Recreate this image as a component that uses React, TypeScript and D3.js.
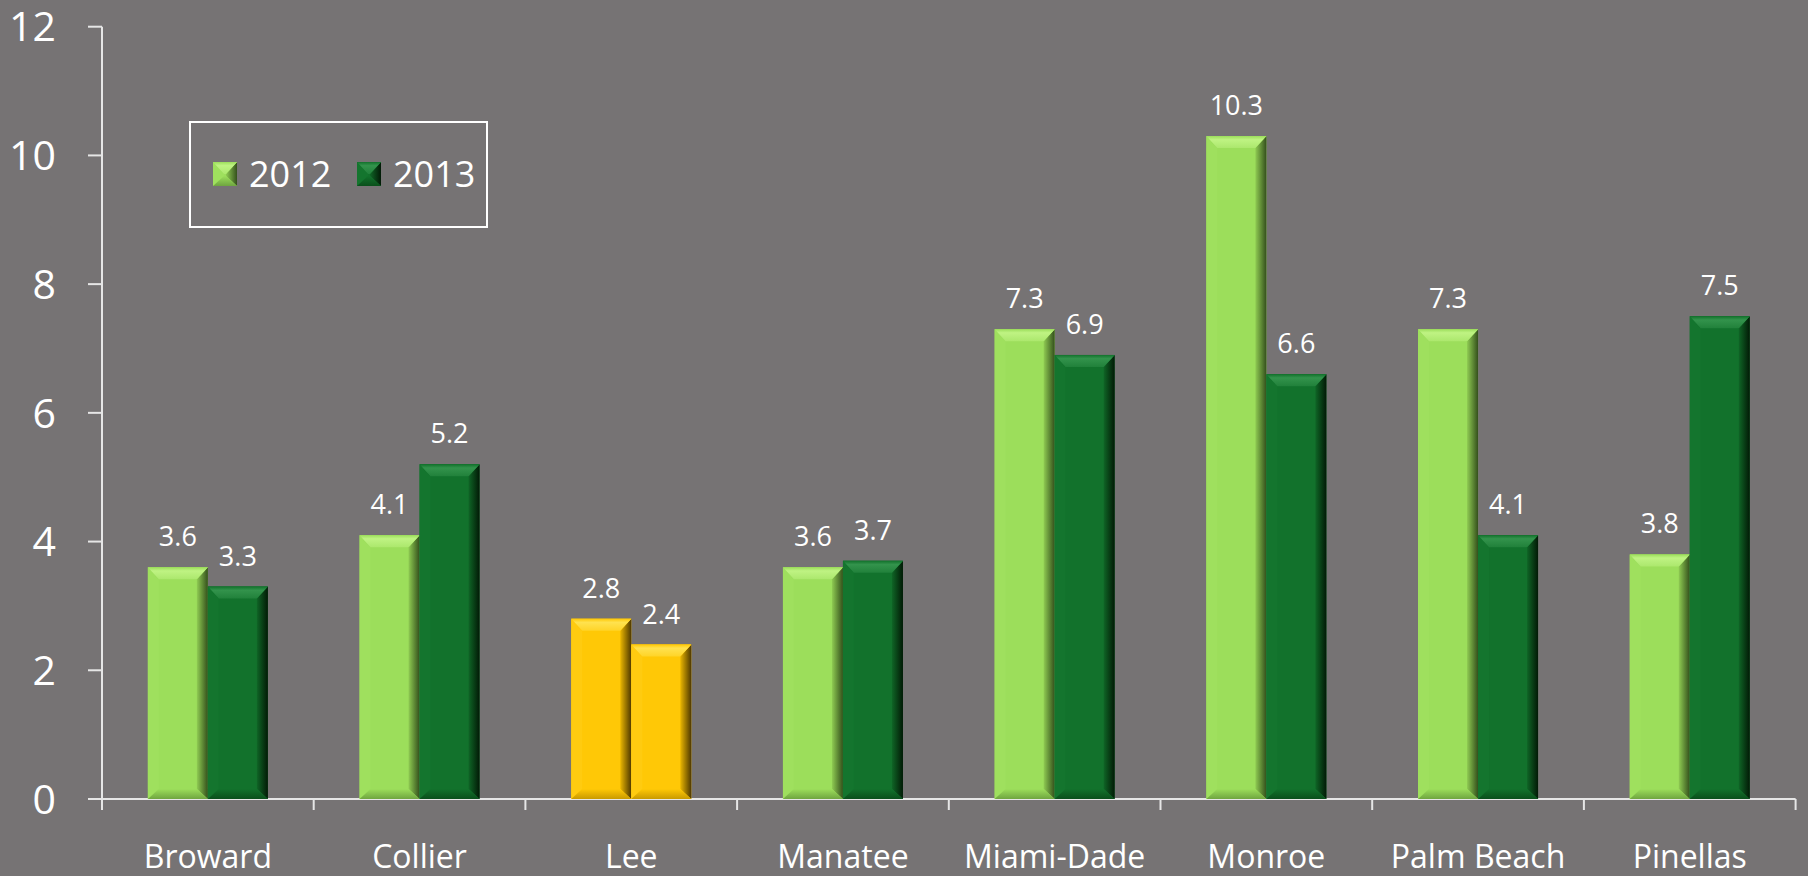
import React from "react";
import * as d3 from "d3";

const categories = ["Broward", "Collier", "Lee", "Manatee", "Miami-Dade", "Monroe", "Palm Beach", "Pinellas"];
const seriesNames = ["2012", "2013"];
const values2012 = [3.6, 4.1, 2.8, 3.6, 7.3, 10.3, 7.3, 3.8];
const values2013 = [3.3, 5.2, 2.4, 3.7, 6.9, 6.6, 4.1, 7.5];
const highlighted = ["Lee"];
const yTicks = [0, 2, 4, 6, 8, 10, 12];

const W = 1808;
const H = 876;
const BG = "#767374";
const AXIS = "#e6e6e6";
const FONT = "'Open Sans', sans-serif";

type Shade = { base: string; top: string; left: string; bottom: string; rightA: string; rightB: string };
const shades: Record<string, Shade> = {
  light: { base: "#9cde5b", top: "#bff383", left: "#9fe05e", bottom: "#6f a540".replace(" ", ""), rightA: "#8fcb52", rightB: "#34501c" },
  dark: { base: "#12722c", top: "#33934c", left: "#14752e", bottom: "#0a4f1b", rightA: "#0f6526", rightB: "#021a06" },
  yellow: { base: "#ffc806", top: "#ffe24f", left: "#ffcb10", bottom: "#c99a00", rightA: "#eab600", rightB: "#4f3900" },
};

const x = d3.scaleBand<string>().domain(categories).range([102, 1795.6]).paddingInner(0).paddingOuter(0);
const xs = d3.scaleBand<string>().domain(seriesNames).range([0, x.bandwidth()]).paddingInner(0).paddingOuter(0.764);
const y = d3.scaleLinear().domain([0, 12]).range([799, 26.7]);

function BevelBar({ x0, y0, w, h, shade, id }: { x0: number; y0: number; w: number; h: number; shade: Shade; id: string }) {
  const bt = Math.min(12, h / 2);
  const bs = Math.min(11, w / 2);
  const bb = Math.min(10, h / 2);
  const x1 = x0 + w;
  const y1 = y0 + h;
  const pts = (p: number[][]) => p.map((q) => q.join(",")).join(" ");
  return (
    <g>
      <defs>
        <linearGradient id={`r-${id}`} x1="0" x2="1" y1="0" y2="0">
          <stop offset="0" stopColor={shade.rightA} />
          <stop offset="1" stopColor={shade.rightB} />
        </linearGradient>
        <linearGradient id={`t-${id}`} x1="0" x2="0" y1="0" y2="1">
          <stop offset="0" stopColor={shade.base} />
          <stop offset="0.3" stopColor={shade.top} />
          <stop offset="1" stopColor={shade.top} stopOpacity={0.45} />
        </linearGradient>
        <linearGradient id={`b-${id}`} x1="0" x2="0" y1="0" y2="1">
          <stop offset="0" stopColor={shade.base} />
          <stop offset="1" stopColor={shade.bottom} />
        </linearGradient>
      </defs>
      <rect x={x0} y={y0} width={w} height={h} fill={shade.base} />
      <polygon points={pts([[x0, y0], [x0 + bs, y0 + bt], [x0 + bs, y1 - bb], [x0, y1]])} fill={shade.left} />
      <polygon points={pts([[x1, y0], [x1, y1], [x1 - bs, y1 - bb], [x1 - bs, y0 + bt]])} fill={`url(#r-${id})`} />
      <polygon points={pts([[x0, y1], [x0 + bs, y1 - bb], [x1 - bs, y1 - bb], [x1, y1]])} fill={`url(#b-${id})`} />
      <polygon points={pts([[x0, y0], [x1, y0], [x1 - bs, y0 + bt], [x0 + bs, y0 + bt]])} fill={shade.base} />
      <polygon points={pts([[x0, y0], [x1, y0], [x1 - bs, y0 + bt], [x0 + bs, y0 + bt]])} fill={`url(#t-${id})`} />
    </g>
  );
}

export default function App() {
  const series = [values2012, values2013];
  return (
    <svg width={W} height={H} style={{ position: "absolute", left: 0, top: 0, display: "block" }} xmlns="http://www.w3.org/2000/svg">
      <rect x={0} y={0} width={W} height={H} fill={BG} />
      {/* y axis */}
      <line x1={102} x2={102} y1={y(12)} y2={y(0)} stroke={AXIS} strokeWidth={2} />
      {yTicks.map((t) => (
        <g key={t}>
          <line x1={88} x2={102} y1={y(t)} y2={y(t)} stroke={AXIS} strokeWidth={2} />
          <text x={56} y={y(t)} dy="0.36em" textAnchor="end" fill="#ffffff" fontFamily={FONT} fontSize={41}>
            {t}
          </text>
        </g>
      ))}
      {/* x axis */}
      <line x1={88} x2={x.range()[1]} y1={y(0)} y2={y(0)} stroke={AXIS} strokeWidth={2} />
      {categories.map((c, i) => (
        <line key={`tk${i}`} x1={(x(c) as number) + x.bandwidth()} x2={(x(c) as number) + x.bandwidth()} y1={y(0)} y2={y(0) + 11} stroke={AXIS} strokeWidth={2} />
      ))}
      <line x1={102} x2={102} y1={y(0)} y2={y(0) + 11} stroke={AXIS} strokeWidth={2} />
      {categories.map((c) => (
        <text key={`cl${c}`} x={(x(c) as number) + x.bandwidth() / 2} y={868} textAnchor="middle" fill="#ffffff" fontFamily={FONT} fontSize={32}>
          {c}
        </text>
      ))}
      {/* bars */}
      {categories.map((c, i) =>
        seriesNames.map((s, j) => {
          const v = series[j][i];
          const bx = (x(c) as number) + (xs(s) as number);
          const bw = xs.bandwidth();
          const by = y(v);
          const bh = y(0) - by;
          const shade = highlighted.includes(c) ? shades.yellow : j === 0 ? shades.light : shades.dark;
          return (
            <g key={`${c}-${s}`}>
              <BevelBar x0={bx} y0={by} w={bw} h={bh} shade={shade} id={`b${i}-${j}`} />
              <text x={bx + bw / 2} y={by - 21} textAnchor="middle" fill="#ffffff" fontFamily={FONT} fontSize={27}>
                {v.toFixed(1)}
              </text>
            </g>
          );
        })
      )}
      {/* legend */}
      <rect x={190} y={122} width={297} height={105} fill="none" stroke="#ffffff" strokeWidth={2} />
      {seriesNames.map((s, j) => {
        const lx = j === 0 ? 213 : 357;
        return (
          <g key={`lg${s}`}>
            <BevelBar x0={lx} y0={162} w={24} h={24} shade={j === 0 ? shades.light : shades.dark} id={`lg${j}`} />
            <text x={lx + 36} y={187} fill="#ffffff" fontFamily={FONT} fontSize={36}>
              {s}
            </text>
          </g>
        );
      })}
    </svg>
  );
}
